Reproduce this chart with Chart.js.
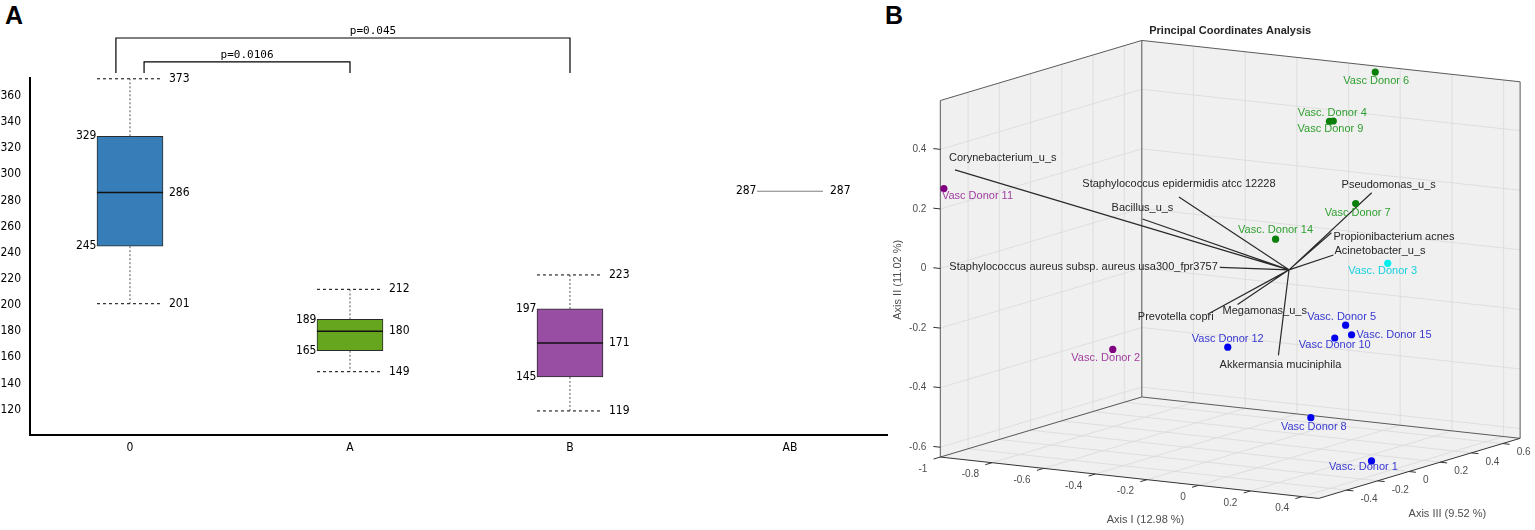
<!DOCTYPE html>
<html>
<head>
<meta charset="utf-8">
<script src="https://cdn.jsdelivr.net/npm/chart.js@4.4.1/dist/chart.umd.min.js"></script>
<style>
  html, body { margin: 0; padding: 0; background: #fff; }
  body { width: 1535px; height: 530px; position: relative; overflow: hidden; }
  canvas { position: absolute; top: 0; }
  #cajas { left: 0; }
  #pcoa { left: 880px; }
  .letra { position: absolute; top: 3px; font: bold 25px "Liberation Sans", Arial, sans-serif; line-height: 25px; color: #000; }
</style>
</head>
<body>
<div class="letra" style="left:5px">A</div>
<div class="letra" style="left:885px">B</div>
<canvas id="cajas" width="890" height="530"></canvas>
<canvas id="pcoa" width="655" height="530"></canvas>
<script>
// ---------- Panel A: datos del boxplot ----------
const grupos = ['0', 'A', 'B', 'AB'];
const bigoteInf = [201, 149, 119, 287];
const cuartilInf = [245, 165, 145, 287];
const mediana = [286, 180, 171, 287];
const cuartilSup = [329, 189, 197, 287];
const bigoteSup = [373, 212, 223, 287];
const ticksA = [120, 140, 160, 180, 200, 220, 240, 260, 280, 300, 320, 340, 360];
// comparaciones: grupo inicial, grupo final, texto
const pruebaDesde = ['0', '0'];
const pruebaHasta = ['B', 'A'];
const pruebaTexto = ['p=0.045', 'p=0.0106'];

// ---------- Panel B: datos del PCoA ----------
const donantes = ['Vasc Donor 6', 'Vasc. Donor 4', 'Vasc Donor 9', 'Vasc Donor 11', 'Vasc Donor 7',
  'Vasc. Donor 14', 'Vasc. Donor 3', 'Vasc. Donor 5', 'Vasc. Donor 15', 'Vasc Donor 10',
  'Vasc Donor 12', 'Vasc. Donor 2', 'Vasc Donor 8', 'Vasc. Donor 1'];
const grupoDonante = ['g', 'g', 'g', 'p', 'g', 'g', 'c', 'b', 'b', 'b', 'b', 'p', 'b', 'b'];
const ejeI = [-0.058, -0.103, -0.118, -0.994, 0.258, -0.052, 0.382, 0.219, 0.242, 0.177, -0.237, -0.682, -0.268, 0.396];
const ejeII = [0.557, 0.419, 0.416, 0.267, 0.247, 0.098, 0.058, -0.165, -0.195, -0.212, -0.282, -0.332, -0.613, -0.584];
const ejeIII = [0.648, 0.454, 0.454, -0.565, 0, 0, 0, 0, 0, 0, 0, 0, 0.583, -0.127];

const taxones = ['Corynebacterium_u_s', 'Staphylococcus epidermidis atcc 12228', 'Pseudomonas_u_s', 'Bacillus_u_s',
  'Propionibacterium acnes', 'Acinetobacter_u_s', 'Staphylococcus aureus subsp. aureus usa300_fpr3757',
  'Prevotella copri', 'Megamonas_u_s', 'Akkermansia muciniphila'];
const cargaI = [-0.982, -0.426, 0.32, -0.567, 0.164, 0.172, -0.268, -0.315, -0.199, -0.041];
const cargaII = [0.323, 0.204, 0.289, 0.117, 0.14, 0.066, -0.017, -0.179, -0.135, -0.291];
const cargaIII = [-0.514, 0, 0, 0, 0, 0, 0, 0, 0, 0];

const rangoI = [-1, 0.464];
const rangoII = [-0.633, 0.564];
const rangoIII = [-0.578, 0.712];
const ticksI = [-1, -0.8, -0.6, -0.4, -0.2, 0, 0.2, 0.4];
const ticksII = [-0.6, -0.4, -0.2, 0, 0.2, 0.4];
const ticksIII = [-0.4, -0.2, 0, 0.2, 0.4, 0.6];
const tituloEjes = ['Axis I (12.98 %)', 'Axis II (11.02 %)', 'Axis III (9.52 %)'];

// ---------- estilos ----------
const fuenteA = '"DejaVu Sans Condensed", "DejaVu Sans", sans-serif';
const fuenteB = '"Liberation Sans", Arial, sans-serif';
const coloresCaja = ['#377eb8', '#66a61e', '#984ea3', '#808080'];
const colorPunto = { g: '#0a800a', b: '#0000ee', p: '#800080', c: '#00eeee' };
const colorTexto = { g: '#2f9f2f', b: '#3838d2', p: '#a040a0', c: '#18d0e0' };
// posicion de etiquetas [alineacion, dx, dy]
const etiquetaDonante = [['center', 1, 9], ['center', -1, -8], ['center', 1, 8], ['left', -2, 7], ['center', 2, 9],
  ['center', 0, -9], ['center', -5, 8], ['center', -4, -8], ['left', 5, 0], ['center', 0, 7],
  ['center', 0, -8], ['center', -7, 9], ['center', 3, 9], ['center', -8, 6]];
const etiquetaTaxon = [['left', -6, -12], ['center', 0, -13], ['center', 17, -8], ['center', 0, -11],
  ['left', 2, 4], ['left', 1, -4], ['right', -2, 0], ['right', 6, 3], ['left', -15, 7], ['center', 2, 10]];

// ---------- Panel A ----------
const anchoCaja = 66;
const nivelPrueba = [404.2, 385.9];
const basePrueba = 377.5;
const ladoPrueba = [-0.064, 0.064];
const despTexto = [30, 0];

const cajasPlugin = {
  id: 'cajas',
  afterDatasetsDraw(chart) {
    const { ctx, scales: { x, y } } = chart;
    ctx.save();
    ctx.font = '12px ' + fuenteA;
    ctx.fillStyle = '#000';
    ctx.textBaseline = 'middle';
    grupos.forEach((g, i) => {
      const cx = x.getPixelForValue(i);
      const izq = cx - anchoCaja / 2, der = cx + anchoCaja / 2;
      const yq1 = y.getPixelForValue(cuartilInf[i]);
      const yq3 = y.getPixelForValue(cuartilSup[i]);
      const ymed = y.getPixelForValue(mediana[i]);
      const ylo = y.getPixelForValue(bigoteInf[i]);
      const yhi = y.getPixelForValue(bigoteSup[i]);
      const plano = cuartilSup[i] === cuartilInf[i];

      // bigotes
      if (!plano) {
        ctx.lineWidth = 1;
        ctx.strokeStyle = '#555';
        ctx.setLineDash([2, 2]);
        ctx.beginPath();
        ctx.moveTo(cx, yq3); ctx.lineTo(cx, yhi);
        ctx.moveTo(cx, yq1); ctx.lineTo(cx, ylo);
        ctx.stroke();
        ctx.strokeStyle = '#000';
        ctx.setLineDash([3, 3]);
        ctx.beginPath();
        ctx.moveTo(izq, yhi); ctx.lineTo(der, yhi);
        ctx.moveTo(izq, ylo); ctx.lineTo(der, ylo);
        ctx.stroke();
        ctx.setLineDash([]);
      }
      // mediana
      ctx.beginPath();
      ctx.strokeStyle = plano ? coloresCaja[i] : '#111';
      ctx.lineWidth = plano ? 1 : 1.5;
      ctx.moveTo(izq, ymed); ctx.lineTo(der, ymed);
      ctx.stroke();

      // etiquetas
      const hechas = new Set();
      const poner = (valor, lado, py) => {
        const clave = lado + valor;
        if (hechas.has(clave)) return;
        hechas.add(clave);
        ctx.textAlign = lado === 'izq' ? 'right' : 'left';
        ctx.fillText(String(valor), lado === 'izq' ? izq - 0.5 : der + (plano ? 7 : 6), py);
      };
      poner(cuartilSup[i], 'izq', yq3);
      poner(cuartilInf[i], 'izq', yq1);
      poner(bigoteSup[i], 'der', yhi);
      poner(mediana[i], 'der', ymed);
      poner(bigoteInf[i], 'der', ylo);
    });

    // corchetes de significancia
    ctx.strokeStyle = '#000';
    ctx.lineWidth = 1.2;
    ctx.font = '11px "DejaVu Sans Mono", monospace';
    ctx.textAlign = 'center';
    ctx.textBaseline = 'alphabetic';
    pruebaTexto.forEach((t, k) => {
      const x1 = x.getPixelForValue(grupos.indexOf(pruebaDesde[k]) + ladoPrueba[k]);
      const x2 = x.getPixelForValue(grupos.indexOf(pruebaHasta[k]));
      const yn = y.getPixelForValue(nivelPrueba[k]);
      const yb = y.getPixelForValue(basePrueba);
      ctx.beginPath();
      ctx.moveTo(x1, yb); ctx.lineTo(x1, yn); ctx.lineTo(x2, yn); ctx.lineTo(x2, yb);
      ctx.stroke();
      ctx.fillText(t, (x1 + x2) / 2 + despTexto[k], yn - 3.5);
    });
    ctx.restore();
  }
};

new Chart(document.getElementById('cajas'), {
  type: 'bar',
  data: {
    datasets: [{
      data: grupos.map((g, i) => ({ x: i, y: [cuartilInf[i], cuartilSup[i]] })),
      backgroundColor: coloresCaja,
      borderColor: '#2b2b2b',
      borderWidth: 1,
      borderSkipped: false,
      barThickness: anchoCaja
    }]
  },
  options: {
    responsive: false,
    animation: false,
    layout: { padding: { top: 78, right: 3, left: 0, bottom: 0 } },
    plugins: { legend: { display: false }, tooltip: { enabled: false } },
    scales: {
      x: {
        type: 'linear', min: -0.4545, max: 3.441, offset: false,
        grid: { display: false, drawTicks: false },
        border: { display: true, color: '#000', width: 2 },
        afterBuildTicks: s => { s.ticks = grupos.map((g, i) => ({ value: i })); },
        ticks: { callback: v => grupos[v], padding: 6, color: '#000', maxRotation: 0, autoSkip: false,
          font: { family: fuenteA, size: 12 } },
        afterFit: s => { s.height = 95; }
      },
      y: {
        type: 'linear', min: 100.6, max: 373.6,
        grid: { display: false, drawTicks: false },
        border: { display: true, color: '#000', width: 2 },
        afterBuildTicks: s => { s.ticks = ticksA.map(v => ({ value: v })); },
        ticks: { padding: 9, color: '#000', font: { family: fuenteA, size: 12 } },
        afterFit: s => { s.width = 30; }
      }
    }
  },
  plugins: [cajasPlugin]
});

// ---------- Panel B ----------
// vista 3D: esquina frontal inferior izquierda y vectores de cada eje (recorrido completo)
const vista = { x0: 57, y0: 460, vI: [383, 42], vIII: [204, -61], vII: [0, -362] };

function proyectar(a, b, c) {
  const u = (a - rangoI[0]) / (rangoI[1] - rangoI[0]);
  const v = (b - rangoII[0]) / (rangoII[1] - rangoII[0]);
  const w = (c - rangoIII[0]) / (rangoIII[1] - rangoIII[0]);
  return {
    x: vista.x0 + u * vista.vI[0] + w * vista.vIII[0] + v * vista.vII[0],
    y: vista.y0 + u * vista.vI[1] + w * vista.vIII[1] + v * vista.vII[1]
  };
}

const marcoPlugin = {
  id: 'marco',
  beforeDatasetsDraw(chart) {
    const { ctx, scales: { x, y } } = chart;
    const P = (a, b, c) => { const p = proyectar(a, b, c); return [x.getPixelForValue(p.x), y.getPixelForValue(p.y)]; };
    const [i0, i1] = rangoI, [j0, j1] = rangoII, [k0, k1] = rangoIII;
    const linea = (p, q) => { ctx.moveTo(p[0], p[1]); ctx.lineTo(q[0], q[1]); };
    const poligono = pts => { ctx.beginPath(); ctx.moveTo(pts[0][0], pts[0][1]); pts.slice(1).forEach(p => ctx.lineTo(p[0], p[1])); ctx.closePath(); ctx.fill(); };

    ctx.save();
    // paredes
    ctx.fillStyle = '#f0f0f0';
    poligono([P(i0, j0, k0), P(i1, j0, k0), P(i1, j0, k1), P(i0, j0, k1)]);
    poligono([P(i0, j0, k0), P(i0, j0, k1), P(i0, j1, k1), P(i0, j1, k0)]);
    poligono([P(i0, j0, k1), P(i1, j0, k1), P(i1, j1, k1), P(i0, j1, k1)]);

    // rejilla
    ctx.strokeStyle = '#d9d9d9';
    ctx.lineWidth = 0.8;
    ctx.beginPath();
    ticksI.forEach(t => { linea(P(t, j0, k0), P(t, j0, k1)); linea(P(t, j0, k1), P(t, j1, k1)); });
    ticksIII.forEach(t => { linea(P(i0, j0, t), P(i1, j0, t)); linea(P(i0, j0, t), P(i0, j1, t)); });
    ticksII.forEach(t => { linea(P(i0, t, k0), P(i0, t, k1)); linea(P(i0, t, k1), P(i1, t, k1)); });
    ctx.stroke();

    // aristas de la caja
    ctx.strokeStyle = '#5a5a5a';
    ctx.lineWidth = 1;
    ctx.beginPath();
    linea(P(i0, j0, k0), P(i0, j1, k0));
    linea(P(i0, j0, k1), P(i0, j1, k1));
    linea(P(i1, j0, k1), P(i1, j1, k1));
    linea(P(i0, j1, k0), P(i0, j1, k1));
    linea(P(i0, j1, k1), P(i1, j1, k1));
    linea(P(i0, j0, k0), P(i0, j0, k1));
    linea(P(i0, j0, k1), P(i1, j0, k1));
    ctx.stroke();
    ctx.strokeStyle = '#333';
    ctx.beginPath();
    linea(P(i0, j0, k0), P(i1, j0, k0));
    linea(P(i1, j0, k0), P(i1, j0, k1));
    // marcas de los ejes
    ticksI.forEach(t => linea(P(t, j0, k0), P(t, j0, k0 - 0.043)));
    ticksIII.forEach(t => linea(P(i1, j0, t), P(i1 + 0.027, j0, t)));
    ticksII.forEach(t => linea(P(i0, t, k0), P(i0 - 0.027, t, k0)));
    ctx.stroke();

    // etiquetas de los ticks
    ctx.fillStyle = '#4d4d4d';
    ctx.font = '10px ' + fuenteB;
    ctx.textBaseline = 'middle';
    ctx.textAlign = 'right';
    ticksI.forEach(t => { const p = P(t, j0, k0); ctx.fillText(String(t), p[0] - 13, p[1] + 12); });
    ticksII.forEach(t => { const p = P(i0, t, k0); ctx.fillText(String(t), p[0] - 14, p[1]); });
    ctx.textAlign = 'left';
    ticksIII.forEach(t => { const p = P(i1, j0, t); ctx.fillText(String(t), p[0] + 14, p[1] + 9); });

    // titulos de ejes
    ctx.font = '11px ' + fuenteB;
    ctx.textAlign = 'center';
    const mI = P((i0 + i1) / 2, j0, k0);
    ctx.fillText(tituloEjes[0], mI[0] + 16, mI[1] + 42);
    const mIII = P(i1, j0, (k0 + k1) / 2);
    ctx.fillText(tituloEjes[2], mIII[0] + 28, mIII[1] + 46);
    const mII = P(i0, (j0 + j1) / 2, k0);
    ctx.save();
    ctx.translate(mII[0] - 42, mII[1] + 1);
    ctx.rotate(-Math.PI / 2);
    ctx.fillText(tituloEjes[1], 0, 0);
    ctx.restore();

    // titulo
    const izq = P(i0, j1, k0), der = P(i1, j1, k1), fondo = P(i0, j1, k1);
    ctx.fillStyle = '#262626';
    ctx.font = 'bold 11px ' + fuenteB;
    ctx.fillText('Principal Coordinates Analysis', (izq[0] + der[0]) / 2, fondo[1] - 9);

    // vectores de taxones
    const o = P(0, 0, 0);
    ctx.strokeStyle = '#2a2a2a';
    ctx.lineWidth = 1.2;
    ctx.beginPath();
    taxones.forEach((t, n) => linea(o, P(cargaI[n], cargaII[n], cargaIII[n])));
    ctx.stroke();
    ctx.font = '11px ' + fuenteB;
    taxones.forEach((t, n) => {
      const p = P(cargaI[n], cargaII[n], cargaIII[n]);
      const [al, dx, dy] = etiquetaTaxon[n];
      ctx.textAlign = al;
      ctx.fillText(t, p[0] + dx, p[1] + dy);
    });
    ctx.restore();
  },
  afterDatasetsDraw(chart) {
    const { ctx } = chart;
    ctx.save();
    ctx.font = '11px ' + fuenteB;
    ctx.textBaseline = 'middle';
    chart.data.datasets.forEach((ds, d) => {
      chart.getDatasetMeta(d).data.forEach((pt, j) => {
        const n = ds.data[j].n;
        const [al, dx, dy] = etiquetaDonante[n];
        ctx.fillStyle = colorTexto[grupoDonante[n]];
        ctx.textAlign = al;
        ctx.fillText(donantes[n], pt.x + dx, pt.y + dy);
      });
    });
    ctx.restore();
  }
};

new Chart(document.getElementById('pcoa'), {
  type: 'scatter',
  data: {
    datasets: ['g', 'b', 'p', 'c'].map(gr => ({
      data: donantes.map((d, n) => ({ ...proyectar(ejeI[n], ejeII[n], ejeIII[n]), n }))
        .filter(p => grupoDonante[p.n] === gr),
      backgroundColor: colorPunto[gr],
      borderWidth: 0,
      pointRadius: 3.6
    }))
  },
  options: {
    responsive: false,
    animation: false,
    layout: { padding: 0 },
    plugins: { legend: { display: false }, tooltip: { enabled: false } },
    scales: {
      x: { type: 'linear', display: false, min: 0, max: 655 },
      y: { type: 'linear', display: false, min: 0, max: 530, reverse: true }
    }
  },
  plugins: [marcoPlugin]
});
</script>
</body>
</html>
